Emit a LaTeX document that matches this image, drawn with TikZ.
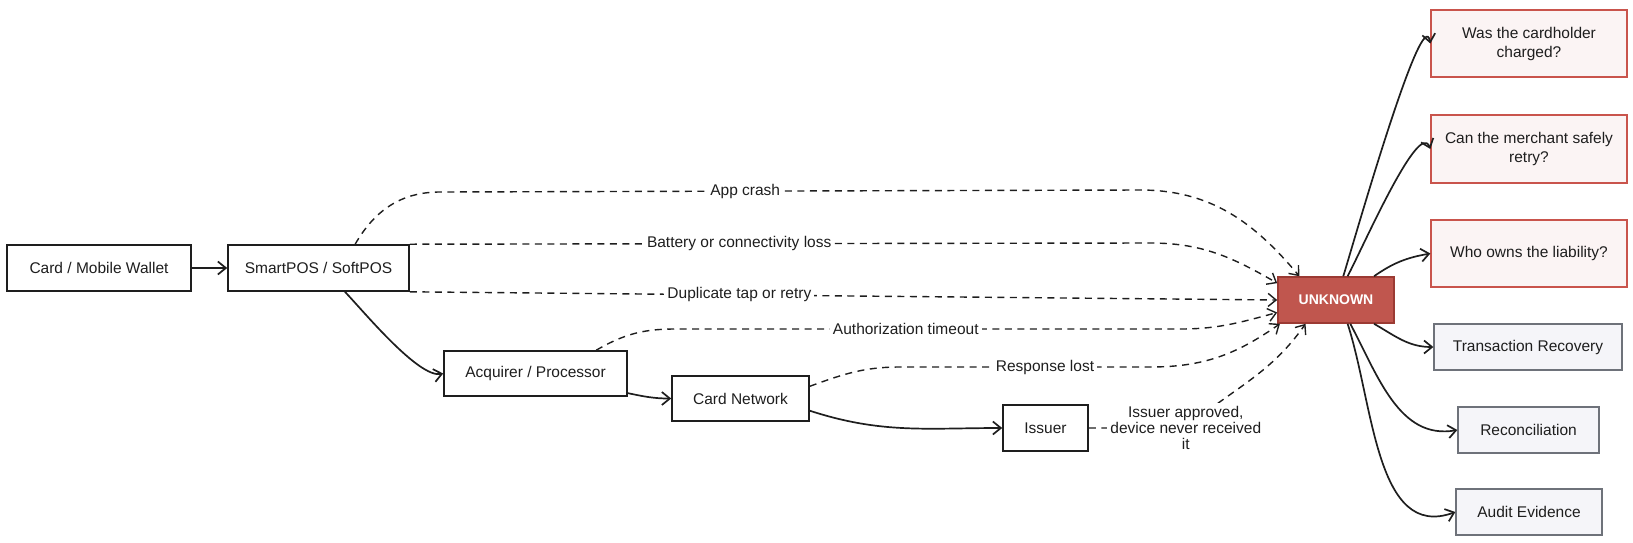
\documentclass[tikz,border=0pt]{standalone}
\usepackage{fontspec}
\setmainfont{Liberation Sans}
\usepackage{xcolor}
\usepackage{tikz}
\usetikzlibrary{arrows.meta}
\definecolor{cnegro}{HTML}{1E1E1E}
\definecolor{crojo}{HTML}{C9544C}
\definecolor{crojof}{HTML}{FBF4F4}
\definecolor{cdesc}{HTML}{C0564E}
\definecolor{cdescb}{HTML}{9B3A33}
\definecolor{cgris}{HTML}{6E727A}
\definecolor{cgrisf}{HTML}{F5F5F9}
\tikzset{
  caja/.style={rectangle, draw=cnegro, fill=white, line width=1.6pt, align=center,
    inner sep=0pt, minimum height=46pt, font=\fontsize{15.5}{19}\selectfont, text=cnegro},
  cajaq/.style={caja, draw=crojo, fill=crojof, line width=1.3pt,
    minimum width=196pt, minimum height=67pt},
  cajag/.style={caja, draw=cgris, fill=cgrisf, line width=1.3pt},
  cajad/.style={caja, draw=cdescb, fill=cdesc, text=white,
    font=\fontsize{14}{16}\selectfont\bfseries},
  flecha/.style={-{Straight Barb[length=8pt,width=13pt]}, line width=1.7pt, draw=cnegro},
  flechad/.style={flecha, line width=1.4pt, dash pattern=on 7pt off 5.5pt},
  etq/.style={fill=white, inner sep=3pt, align=center,
    font=\fontsize{15.5}{16}\selectfont, text=cnegro},
}

\begin{document}
\begin{tikzpicture}[x=1pt, y=-1pt]
  \useasboundingbox (0,0) rectangle (1633,542);
  \node[caja, minimum width=184pt] (tarjeta) at (99,268) {Card / Mobile Wallet};
  \node[caja, minimum width=181pt] (pos) at (318.5,268) {SmartPOS / SoftPOS};
  \node[caja, minimum width=183pt, minimum height=45pt] (adq) at (535.5,373.5) {Acquirer / Processor};
  \node[caja, minimum width=137pt, minimum height=45pt] (redtar) at (740.5,398.5) {Card Network};
  \node[caja, minimum width=85pt] (emisor) at (1045.5,428) {Issuer};
  \node[cajad, minimum width=116pt] (desc) at (1336,300) {UNKNOWN};
  \node[cajaq] (cobro) at (1529,43.5) {Was the cardholder\\charged?};
  \node[cajaq, minimum height=68pt] (reint) at (1529,149) {Can the merchant safely\\retry?};
  \node[cajaq] (resp) at (1529,253.5) {Who owns the liability?};
  \node[cajag, minimum width=188pt] (recup) at (1528,347) {Transaction Recovery};
  \node[cajag, minimum width=141pt] (conc) at (1528.5,430) {Reconciliation};
  \node[cajag, minimum width=146pt] (audit) at (1529,512) {Audit Evidence};

  \draw[flecha] (tarjeta) -- (pos);
  \draw[flecha] (pos.-42) to[out=-46,in=192,looseness=0.5] (adq.west);
  \draw[flecha] (adq.-12) to[out=-12,in=180] (redtar.west);
  \draw[flecha] (redtar.-10) to[out=-18,in=180] (emisor.west);

  \draw[flechad] (pos.33) to[out=60,in=180] (440,192)
    -- node[etq,pos=0.436]{App crash} (1140,190) to[out=0,in=130] (desc.147);
  \draw[flechad] (pos.north east) -- node[etq,pos=0.445]{Battery or connectivity loss} (1150,243)
    to[out=0,in=150] (desc.164);
  \draw[flechad] (pos.south east) -- node[etq,pos=0.38]{Duplicate tap or retry} (desc.west);
  \draw[flechad] (adq.21) to[out=30,in=180] (675,329)
    -- node[etq,pos=0.457]{Authorization timeout} (1180,329) to[out=0,in=195] (desc.192);
  \draw[flechad] (redtar.10) to[out=20,in=180] (900,367)
    -- node[etq,pos=0.58]{Response lost} (1150,367) to[out=0,in=215] (desc.203);
  \draw[flechad] (emisor.east) -- ++(97,0) node[etq]{Issuer approved,\\device never received\\it}
    to[out=40,in=235] (desc.218);

  \draw[flecha] (desc.73) to[out=73,in=100,looseness=0.45] (cobro.west);
  \draw[flecha] (desc.64) to[out=62,in=110,looseness=0.55] (reint.west);
  \draw[flecha] (desc.32) to[out=35,in=190] (resp.west);
  \draw[flecha] (desc.-32) to[out=-30,in=180] (recup.west);
  \draw[flecha] (desc.-59) to[out=-62,in=190] (conc.west);
  \draw[flecha] (desc.-64) to[out=-72,in=200] (audit.west);
\end{tikzpicture}
\end{document}
